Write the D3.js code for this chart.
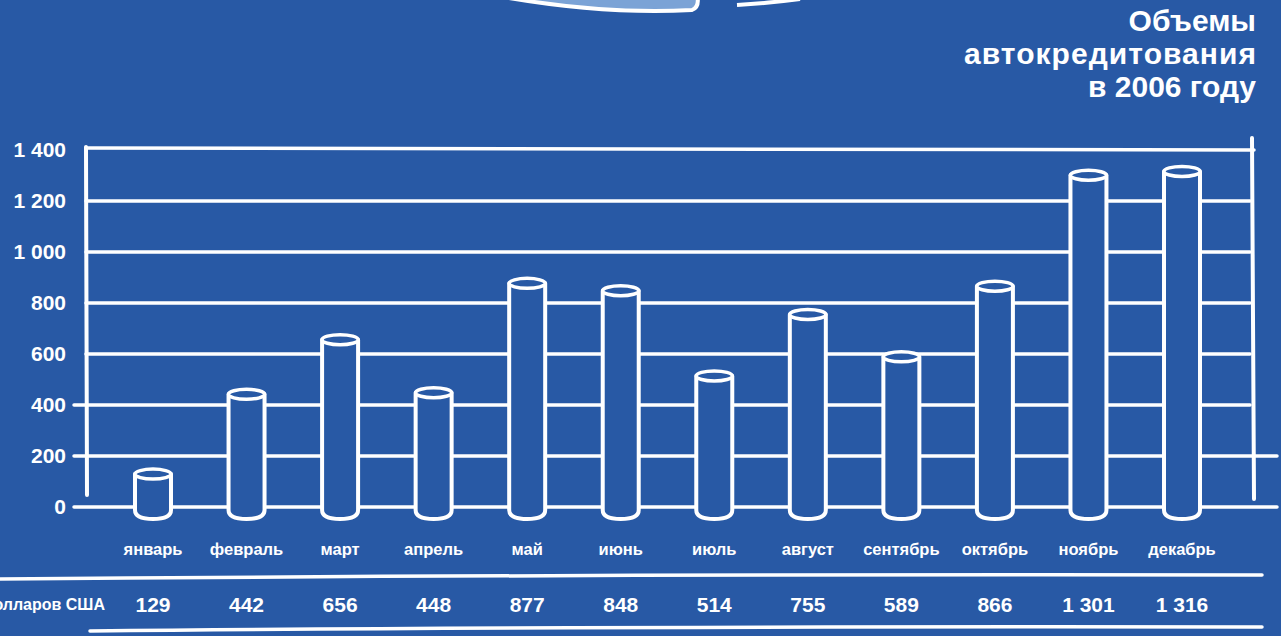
<!DOCTYPE html>
<html><head><meta charset="utf-8">
<script src="https://cdn.jsdelivr.net/npm/d3@7"></script>
<style>
html,body{margin:0;padding:0;background:#2859a5;overflow:hidden}
text{font-family:"Liberation Sans",Arial,sans-serif;font-weight:bold;fill:#fff}
</style></head><body>
<script>
const months = ["январь","февраль","март","апрель","май","июнь","июль","август","сентябрь","октябрь","ноябрь","декабрь"];
const values = [129,442,656,448,877,848,514,755,589,866,1301,1316];
const yTicks = [0,200,400,600,800,1000,1200,1400];
const titleLines = ["Объемы","автокредитования","в 2006 году"];
const unitLabel = "млн долларов США";

const W=1281,H=636,BG="#2859a5";
const svg=d3.select("body").append("svg").attr("width",W).attr("height",H);
svg.append("rect").attr("width",W).attr("height",H).attr("fill",BG);

const left=86,right=1252,y0=507,yTop=150;
const x=d3.scalePoint().domain(months).range([153,1182]);
const bw=36;
const y=d3.scaleLinear().domain([0,1400]).range([y0,yTop]);
const fmt=v=>d3.format(",")(v).replace(/,/g," ");

// top decoration
svg.append("path").attr("d","M492,-5 Q600,15 692,10 Q700,7 697,-5 Z").attr("fill","#7ba3d6").attr("stroke","#fff").attr("stroke-width",4);
svg.append("path").attr("d","M737,5 Q770,3 800,-1").attr("fill","none").attr("stroke","#fff").attr("stroke-width",4);

// title
svg.append("g").selectAll("text").data(titleLines).join("text")
  .attr("x",1256).attr("y",(d,i)=>31+i*33).attr("text-anchor","end")
  .attr("font-size",30).attr("textLength",(d,i)=>i===1?292:null).text(d=>d);

// gridlines
const g=svg.append("g").attr("stroke","#fff").attr("stroke-linecap","round").attr("fill","none");
g.selectAll("line.grid").data(yTicks).join("line")
  .attr("x1",d=>d<=400?74:left).attr("x2",d=>d<=200?1277:(d===1400?1254:right-2))
  .attr("y1",d=>y(d)+(d===1400?-2:0)).attr("y2",d=>y(d)).attr("stroke-width",3.5);
// axes verticals
g.append("line").attr("x1",left).attr("x2",left+1).attr("y1",yTop-3).attr("y2",y0-12).attr("stroke-width",4);
g.append("line").attr("x1",right).attr("x2",right+2).attr("y1",yTop-12).attr("y2",y0-8).attr("stroke-width",4);

// y labels
svg.append("g").selectAll("text").data(yTicks).join("text")
  .attr("x",66).attr("y",d=>y(d)+7).attr("text-anchor","end").attr("font-size",21).text(fmt);

// bars (cylinders)
const bars=svg.append("g");
months.forEach((m,i)=>{
  const cx=x(m), xl=cx-bw/2, xr=cx+bw/2, yt=y(values[i]), ry=5;
  const yb=y0+3;
  bars.append("path")
    .attr("d",`M${xl},${yt} L${xl},${yb} Q${xl},${yb+9} ${cx},${yb+9} Q${xr},${yb+9} ${xr},${yb} L${xr},${yt} Z`)
    .attr("fill",BG).attr("stroke","#fff").attr("stroke-width",4).attr("stroke-linejoin","round");
  bars.append("ellipse").attr("cx",cx).attr("cy",yt).attr("rx",bw/2).attr("ry",ry)
    .attr("fill",BG).attr("stroke","#fff").attr("stroke-width",3.5);
});

// month labels
svg.append("g").selectAll("text").data(months).join("text")
  .attr("x",d=>x(d)).attr("y",555).attr("text-anchor","middle").attr("font-size",16.5).text(d=>d);

// table lines
g.append("path").attr("d","M-5,579 Q600,574 1262,575").attr("stroke-width",3.5);
g.append("path").attr("d","M90,631 Q600,626 1262,627").attr("stroke-width",3.5);

// unit label and values
svg.append("text").attr("x",105).attr("y",610).attr("text-anchor","end").attr("font-size",16).text(unitLabel);
svg.append("g").selectAll("text").data(values).join("text")
  .attr("x",(d,i)=>x(months[i])).attr("y",612).attr("text-anchor","middle").attr("font-size",21).text(fmt);
</script></body></html>
